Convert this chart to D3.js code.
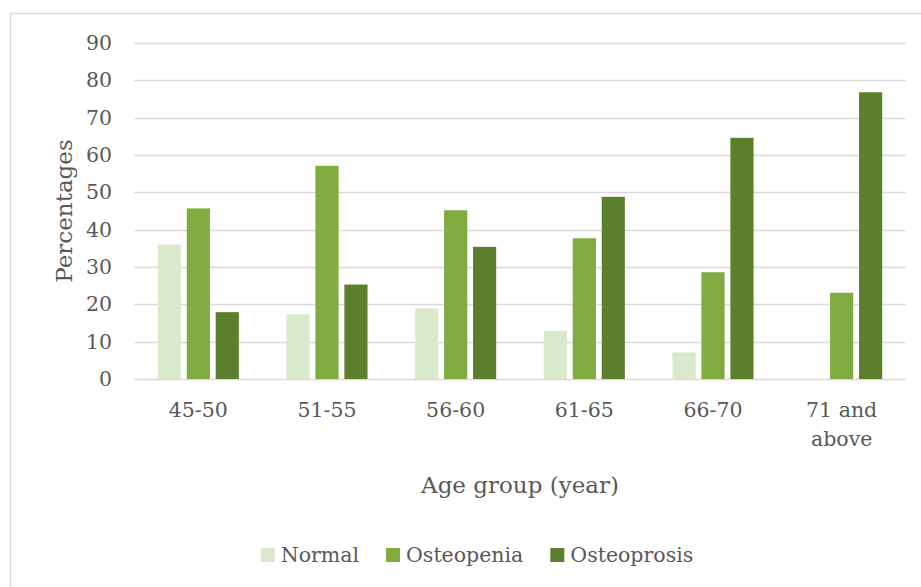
<!DOCTYPE html>
<html>
<head>
<meta charset="utf-8">
<script src="https://cdn.jsdelivr.net/npm/d3@7"></script>
<style>
  html, body { margin: 0; padding: 0; background: #fff; }
  svg { display: block; }
  text { font-family: "DejaVu Serif", Cambria, serif; fill: #595959; }
</style>
</head>
<body>
<svg id="chart" width="921" height="587"></svg>
<script>
// Age groups along the x axis
const categories = ["45-50", "51-55", "56-60", "61-65", "66-70", "71 and above"];
// Series names as shown in the legend
const seriesNames = ["Normal", "Osteopenia", "Osteoprosis"];
// Percentages for each series, one value per age group
const normalValues = [36.0, 17.3, 18.9, 12.9, 7.1, 0];
const osteopeniaValues = [45.7, 57.1, 45.2, 37.7, 28.6, 23.1];
const osteoprosisValues = [17.9, 25.3, 35.4, 48.8, 64.6, 76.8];
// Y axis tick values
const yTicks = [0, 10, 20, 30, 40, 50, 60, 70, 80, 90];

const seriesColors = ["#DAE8CC", "#7FAB41", "#5C7F2E"];
const seriesValues = [normalValues, osteopeniaValues, osteoprosisValues];

const svg = d3.select("#chart");
const W = 921, H = 587;
const plot = { left: 134, right: 906, top: 43, bottom: 379 };

// Chart area outline
svg.append("rect")
  .attr("x", 10.5).attr("y", 13.5)
  .attr("width", 960).attr("height", 620)
  .attr("fill", "#fff")
  .attr("stroke", "#D9D9D9")
  .attr("stroke-width", 1.5);

const y = d3.scaleLinear().domain([0, 90]).range([plot.bottom, plot.top]);

const x0 = d3.scaleBand()
  .domain(categories)
  .range([plot.left, plot.right])
  .paddingInner(0.37)
  .paddingOuter(0.185);

const x1 = d3.scaleBand()
  .domain(seriesNames)
  .range([0, x0.bandwidth()])
  .paddingInner(0.2);

// Horizontal gridlines
svg.append("g")
  .selectAll("line")
  .data(yTicks)
  .join("line")
  .attr("x1", plot.left).attr("x2", plot.right)
  .attr("y1", d => Math.round(y(d)) + 0.5)
  .attr("y2", d => Math.round(y(d)) + 0.5)
  .attr("stroke", "#D9D9D9")
  .attr("stroke-width", 1.6);

// Y axis labels
const yAxis = d3.axisLeft(y)
  .tickValues(yTicks)
  .tickSize(0)
  .tickPadding(22);
const gy = svg.append("g")
  .attr("transform", `translate(${plot.left},0)`)
  .call(yAxis);
gy.select(".domain").remove();
gy.selectAll("text")
  .attr("font-family", "DejaVu Serif, serif")
  .attr("font-size", 20.5)
  .attr("fill", "#595959");

// Bars
const groups = svg.append("g")
  .selectAll("g")
  .data(categories)
  .join("g")
  .attr("transform", d => `translate(${x0(d)},0)`);

groups.selectAll("rect")
  .data((c, i) => seriesNames.map((s, k) => ({ series: s, k, value: seriesValues[k][i] })))
  .join("rect")
  .attr("x", d => x1(d.series))
  .attr("width", x1.bandwidth())
  .attr("y", d => y(d.value))
  .attr("height", d => y(0) - y(d.value))
  .attr("fill", d => seriesColors[d.k]);

// X category labels, wrapped to the band width
const xLabels = svg.append("g");
categories.forEach(c => {
  const t = xLabels.append("text")
    .attr("x", x0(c) + x0.bandwidth() / 2)
    .attr("y", 417)
    .attr("text-anchor", "middle")
    .attr("font-size", 20.5);
  const words = c.split(" ");
  let line = [];
  let tspan = t.append("tspan").attr("x", x0(c) + x0.bandwidth() / 2).attr("dy", 0);
  const maxW = x0.step() - 6;
  words.forEach(w => {
    line.push(w);
    tspan.text(line.join(" "));
    if (tspan.node().getComputedTextLength() > maxW && line.length > 1) {
      line.pop();
      tspan.text(line.join(" "));
      line = [w];
      tspan = t.append("tspan")
        .attr("x", x0(c) + x0.bandwidth() / 2)
        .attr("dy", 29)
        .text(w);
    }
  });
});

// Axis titles
svg.append("text")
  .attr("x", (plot.left + plot.right) / 2)
  .attr("y", 493)
  .attr("text-anchor", "middle")
  .attr("font-size", 23)
  .text("Age group (year)");

svg.append("text")
  .attr("transform", "translate(72,211) rotate(-90)")
  .attr("text-anchor", "middle")
  .attr("font-size", 23)
  .text("Percentages");

// Legend, centred under the chart area
const legend = svg.append("g");
const sw = 14, gapText = 6, gapItem = 27;
const items = seriesNames.map((s, k) => {
  const g = legend.append("g");
  g.append("rect")
    .attr("width", sw).attr("height", sw)
    .attr("y", -sw / 2)
    .attr("fill", seriesColors[k]);
  const t = g.append("text")
    .attr("x", sw + gapText)
    .attr("y", 0)
    .attr("dy", "0.36em")
    .attr("font-size", 20.5)
    .text(s);
  return { g, w: sw + gapText + t.node().getComputedTextLength() };
});
const total = d3.sum(items, d => d.w) + gapItem * (items.length - 1);
let lx = 477 - total / 2;
items.forEach(it => {
  it.g.attr("transform", `translate(${lx},555)`);
  lx += it.w + gapItem;
});
</script>
</body>
</html>
